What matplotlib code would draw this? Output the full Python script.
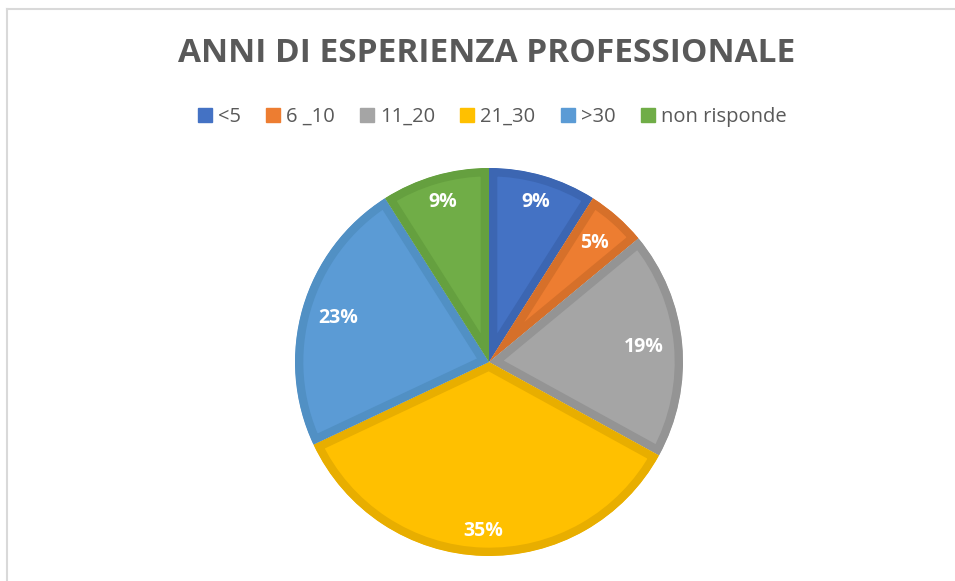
import matplotlib
matplotlib.use('Agg')
import matplotlib.pyplot as plt
import numpy as np
from matplotlib.patches import Patch
from matplotlib.lines import Line2D

# data
categories = ['<5', '6 _10', '11_20', '21_30', '>30', 'non risponde']
shares = [9, 5, 19, 35, 23, 9]
labels_pct = ['9%', '5%', '19%', '35%', '23%', '9%']

# colours (fill and darker inner edge)
fill_colours = ['#4472C4', '#ED7D31', '#A5A5A5', '#FFC000', '#5B9BD5', '#70AD47']
edge_colours = ['#3C66B2', '#D6702A', '#949494', '#E8AE00', '#5190C4', '#65A03F']
text_grey = '#595959'

# label distance from centre (Excel "best fit" placement)
label_dist = [0.86, 0.82, 0.80, 0.87, 0.81, 0.86]

plt.rcParams['font.family'] = ['Open Sans', 'DejaVu Sans']

fig = plt.figure(figsize=(9.55, 5.81), dpi=100)
fig.patch.set_facecolor('white')

# pie axes: centre ~ (489, 362) px, radius ~194 px
W, H = 955, 581
cx, cy, r = 489, 362, 194
ax = fig.add_axes([(cx - r) / W, (H - cy - r) / H, 2 * r / W, 2 * r / H])

wedges, texts = ax.pie(shares, colors=fill_colours, startangle=90,
                       counterclock=False, radius=1,
                       wedgeprops=dict(linewidth=0))

# inner border effect, clipped to each wedge (pie turns clipping off)
for w, ec in zip(wedges, edge_colours):
    w.set_edgecolor(ec)
    w.set_linewidth(12)
    w.set_clip_on(True)
    w.set_clip_path(w)

# percentage labels
start = 90.0
for val, lab, d in zip(shares, labels_pct, label_dist):
    mid = np.deg2rad(start - val * 3.6 / 2)
    start -= val * 3.6
    ax.text(d * np.cos(mid), d * np.sin(mid), lab, ha='center', va='center',
            color='white', fontsize=14, fontweight='bold')

ax.set_xlim(-1, 1)
ax.set_ylim(-1, 1)
ax.set_aspect('equal')
ax.axis('off')

# title
fig.text(487 / W, 1 - 53 / H, 'ANNI DI ESPERIENZA PROFESSIONALE',
         ha='center', va='center', fontsize=24, fontweight='bold',
         color=text_grey)

# legend
handles = [Patch(facecolor=c, edgecolor=c) for c in fill_colours]
leg = fig.legend(handles, categories, loc='center', ncol=6,
                 bbox_to_anchor=(492 / W, 1 - 117 / H), frameon=False,
                 handlelength=0.7, handleheight=0.7, handletextpad=0.3,
                 columnspacing=1.25, fontsize=14.5)
for t in leg.get_texts():
    t.set_color(text_grey)

# chart frame (left and top lines only)
fig.add_artist(Line2D([7 / W, 7 / W], [0, 1 - 9 / H], color='#D9D9D9',
                      linewidth=1.5, transform=fig.transFigure))
fig.add_artist(Line2D([7 / W, 1], [1 - 9 / H, 1 - 9 / H], color='#D9D9D9',
                      linewidth=1.5, transform=fig.transFigure))

plt.savefig('out.png', dpi=100, facecolor='white')
